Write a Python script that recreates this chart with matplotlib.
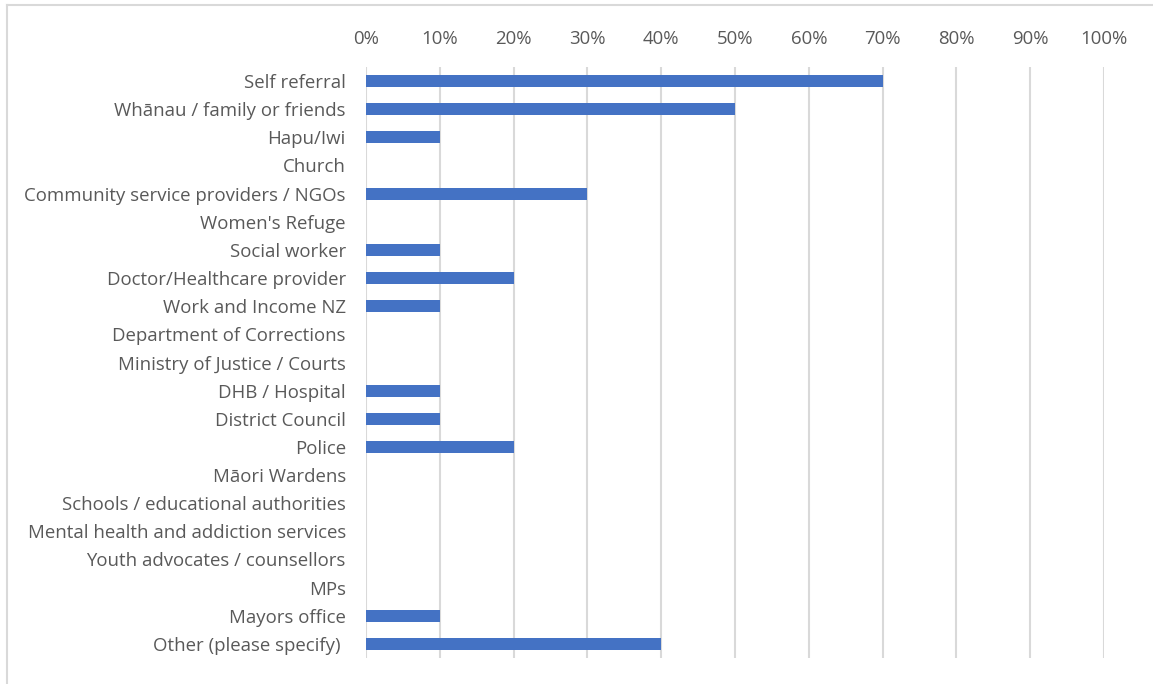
import matplotlib
matplotlib.use("Agg")
import matplotlib.pyplot as plt
from matplotlib.lines import Line2D
from matplotlib.ticker import PercentFormatter

categories = [
    "Self referral",
    "Whānau / family or friends",
    "Hapu/Iwi",
    "Church",
    "Community service providers / NGOs",
    "Women's Refuge",
    "Social worker",
    "Doctor/Healthcare provider",
    "Work and Income NZ",
    "Department of Corrections",
    "Ministry of Justice / Courts",
    "DHB / Hospital",
    "District Council",
    "Police",
    "Māori Wardens",
    "Schools / educational authorities",
    "Mental health and addiction services",
    "Youth advocates / counsellors",
    "MPs",
    "Mayors office",
    "Other (please specify) ",
]
values = [70, 50, 10, 0, 30, 0, 10, 20, 10, 0, 0, 10, 10, 20, 0, 0, 0, 0, 0, 10, 40]
x_ticks = list(range(0, 101, 10))

plt.rcParams["font.family"] = ["Open Sans", "DejaVu Sans"]
text_color = "#595959"
grid_color = "#d9d9d9"
bar_color = "#4472c4"

fig = plt.figure(figsize=(11.53, 6.84), dpi=100)
ax = fig.add_axes([366 / 1153, 1 - 658 / 684, (1104 - 366) / 1153, (658 - 67) / 684])

ypos = list(range(len(categories)))
ax.barh(ypos, values, height=0.43, color=bar_color, zorder=3)

ax.set_xlim(0, 100)
ax.set_ylim(len(categories) - 0.5, -0.5)
ax.set_xticks(x_ticks)
ax.xaxis.set_major_formatter(PercentFormatter(decimals=0))
ax.xaxis.tick_top()
ax.set_yticks(ypos)
ax.set_yticklabels(categories)
ax.tick_params(axis="x", length=0, pad=14, labelsize=13.4, colors=text_color)
ax.tick_params(axis="y", length=0, pad=14.5, labelsize=13.4, colors=text_color)

ax.grid(axis="x", color=grid_color, linewidth=1.5, zorder=0)
for side in ["top", "right", "bottom", "left"]:
    ax.spines[side].set_visible(False)

# Light chart-area frame along the top and left edges
fig.add_artist(Line2D([7 / 1153, 1.0], [1 - 5 / 684, 1 - 5 / 684],
                      transform=fig.transFigure, color=grid_color, linewidth=1.5))
fig.add_artist(Line2D([7 / 1153, 7 / 1153], [0.0, 1 - 5 / 684],
                      transform=fig.transFigure, color=grid_color, linewidth=1.5))

fig.savefig("out.png", dpi=100)
